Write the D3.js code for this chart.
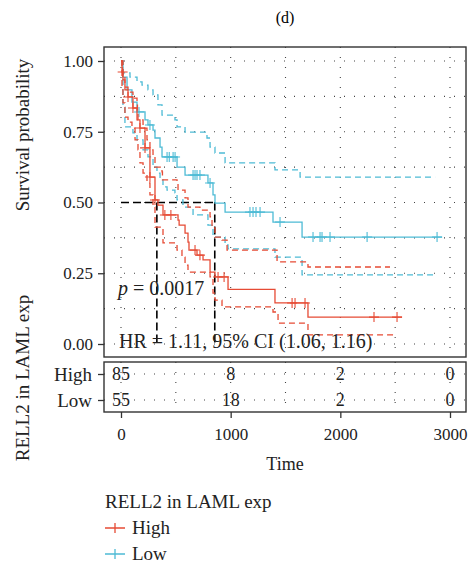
<!DOCTYPE html>
<html>
<head>
<meta charset="utf-8">
<script src="https://cdn.jsdelivr.net/npm/d3@7"></script>
<style>
  body { margin: 0; background: #fff; }
  svg { font-family: "Liberation Serif", "DejaVu Serif", serif; }
</style>
</head>
<body>
<div class="km-plot"></div>
<script>
// Kaplan-Meier steps: [time, survival]
const highCurve = [[0,1],[9,0.961],[18,0.933],[36,0.898],[64,0.873],[109,0.834],[146,0.792],[173,0.763],[219,0.693],[264,0.59],[310,0.509],[337,0.491],[383,0.456],[520,0.438],[530,0.42],[584,0.392],[611,0.36],[620,0.332],[693,0.314],[748,0.297],[812,0.254],[857,0.237],[976,0.193],[1404,0.145],[1705,0.095],[2563,0.095]];
const highUpper = [[0,1],[18,0.951],[36,0.908],[64,0.89],[109,0.869],[146,0.855],[150,0.82],[155,0.792],[201,0.763],[237,0.721],[264,0.686],[292,0.661],[310,0.625],[374,0.608],[378,0.58],[511,0.569],[520,0.544],[584,0.516],[611,0.484],[720,0.473],[812,0.449],[830,0.41],[857,0.378],[921,0.367],[967,0.332],[1423,0.29],[1705,0.272],[2453,0.272]];
const highLower = [[0,1],[9,0.898],[18,0.852],[36,0.802],[64,0.784],[100,0.763],[128,0.721],[155,0.686],[173,0.64],[201,0.604],[237,0.569],[264,0.527],[292,0.484],[310,0.413],[383,0.357],[511,0.332],[556,0.307],[584,0.279],[611,0.254],[812,0.237],[839,0.18],[857,0.155],[921,0.131],[1386,0.113],[1432,0.074],[1705,0.032],[2499,0.032]];
const highCensor = [15,64,109,173,219,264,310,400,455,675,720,885,940,1560,1587,1678,2307,2517];

const lowCurve = [[0,1],[18,0.943],[55,0.898],[100,0.855],[146,0.82],[219,0.792],[246,0.774],[292,0.756],[310,0.728],[356,0.696],[374,0.661],[511,0.625],[584,0.597],[793,0.569],[839,0.527],[857,0.498],[949,0.466],[1386,0.431],[1651,0.378],[2928,0.378]];
const lowUpper = [[0,1],[9,0.986],[18,0.958],[82,0.943],[146,0.926],[192,0.915],[246,0.898],[292,0.88],[337,0.845],[374,0.809],[492,0.792],[511,0.767],[584,0.749],[784,0.728],[812,0.696],[857,0.675],[949,0.64],[1404,0.615],[1633,0.59],[2864,0.59]];
const lowLower = [[0,1],[18,0.837],[36,0.767],[109,0.746],[146,0.721],[201,0.686],[246,0.661],[292,0.625],[328,0.604],[356,0.58],[383,0.555],[420,0.544],[492,0.534],[511,0.509],[565,0.484],[657,0.456],[793,0.42],[839,0.378],[949,0.35],[976,0.336],[1404,0.307],[1651,0.244],[2864,0.244]];
const lowCensor = [164,264,420,440,475,493,657,675,693,720,812,1176,1204,1231,1268,1450,1751,1815,1833,1906,2244,2882];

const medians = [327, 855];
const timeTicks = [0, 1000, 2000, 3000];
const survTicks = [0, 0.25, 0.5, 0.75, 1];
const groups = ["High", "Low"];
const riskHigh = [85, 8, 2, 0];
const riskLow = [55, 18, 2, 0];

const red = "#E64B35";
const blue = "#4DBBD5";
const width = 472;
const height = 565;

const svg = d3.select(".km-plot")
  .append("svg")
  .attr("width", width)
  .attr("height", height);

const x = d3.scaleLinear().domain([0, 3000]).range([121, 450]);
const y = d3.scaleLinear().domain([0, 1]).range([344, 61]);
const panel = {left: 104, right: 466, top: 47, bottom: 357};
const table = {top: 362, bottom: 412};
const rowY = d3.scalePoint().domain(groups).range([374, 400]);

svg.append("text")
  .attr("x", 285).attr("y", 23)
  .attr("text-anchor", "middle")
  .style("font-size", "16px")
  .text("(d)");

// grid
const gridX = d3.range(0, 3001, 500);
const gridY = d3.range(0, 1.001, 0.125);
const grid = svg.append("g")
  .attr("stroke", "#444")
  .attr("stroke-width", 1.1)
  .attr("stroke-dasharray", "1,9");
grid.selectAll(".gx").data(gridX).enter().append("line")
  .attr("x1", d => x(d)).attr("x2", d => x(d))
  .attr("y1", panel.top).attr("y2", panel.bottom);
grid.selectAll(".gy").data(gridY).enter().append("line")
  .attr("x1", panel.left).attr("x2", panel.right)
  .attr("y1", d => y(d)).attr("y2", d => y(d));
grid.selectAll(".tx").data(gridX).enter().append("line")
  .attr("x1", d => x(d)).attr("x2", d => x(d))
  .attr("y1", table.top).attr("y2", table.bottom);
grid.selectAll(".ty").data(groups).enter().append("line")
  .attr("x1", panel.left).attr("x2", panel.right)
  .attr("y1", d => rowY(d)).attr("y2", d => rowY(d));

// median lines
const med = svg.append("g")
  .attr("stroke", "#000")
  .attr("stroke-width", 1.6)
  .attr("stroke-dasharray", "8,4")
  .attr("fill", "none");
med.append("line")
  .attr("x1", x(0)).attr("x2", x(d3.max(medians)))
  .attr("y1", y(0.5)).attr("y2", y(0.5));
med.selectAll(".m").data(medians).enter().append("line")
  .attr("x1", d => x(d)).attr("x2", d => x(d))
  .attr("y1", y(0.5)).attr("y2", y(0));

const line = d3.line()
  .x(d => x(d[0]))
  .y(d => y(d[1]))
  .curve(d3.curveStepAfter);

const stepAt = (curve, t) => {
  let s = 1;
  curve.forEach(p => { if (p[0] <= t) s = p[1]; });
  return s;
};

const drawGroup = (curve, upper, lower, censor, color) => {
  const g = svg.append("g").attr("fill", "none").attr("stroke", color);
  [upper, lower].forEach(ci => {
    g.append("path")
      .attr("d", line(ci))
      .attr("stroke-width", 1.3)
      .attr("stroke-dasharray", "6,4");
  });
  g.append("path")
    .attr("d", line(curve))
    .attr("stroke-width", 1.3);
  g.selectAll(".c").data(censor).enter().append("path")
    .attr("stroke-width", 1.1)
    .attr("d", t => {
      const cx = x(t), cy = y(stepAt(curve, t));
      return `M${cx - 5},${cy}H${cx + 5}M${cx},${cy - 5}V${cy + 5}`;
    });
};

drawGroup(lowCurve, lowUpper, lowLower, lowCensor, blue);
drawGroup(highCurve, highUpper, highLower, highCensor, red);

// panels
svg.append("rect")
  .attr("x", panel.left).attr("y", panel.top)
  .attr("width", panel.right - panel.left).attr("height", panel.bottom - panel.top)
  .attr("fill", "none").attr("stroke", "#333").attr("stroke-width", 1.4);
svg.append("rect")
  .attr("x", panel.left).attr("y", table.top)
  .attr("width", panel.right - panel.left).attr("height", table.bottom - table.top)
  .attr("fill", "none").attr("stroke", "#333").attr("stroke-width", 1.4);

// axes
const yAxis = svg.append("g")
  .attr("transform", `translate(${panel.left},0)`)
  .call(d3.axisLeft(y).tickValues(survTicks).tickFormat(d3.format(".2f")).tickSize(6).tickPadding(5));
const rowAxis = svg.append("g")
  .attr("transform", `translate(${panel.left},0)`)
  .call(d3.axisLeft(rowY).tickSize(6).tickPadding(6));
const xAxis = svg.append("g")
  .attr("transform", `translate(0,${table.bottom})`)
  .call(d3.axisBottom(x).tickValues(timeTicks).tickFormat(d3.format("d")).tickSize(6).tickPadding(10));
[yAxis, rowAxis, xAxis].forEach(a => {
  a.select(".domain").remove();
  a.selectAll("line").attr("stroke", "#333").attr("stroke-width", 1.3);
  a.selectAll("text")
    .attr("fill", "#222")
    .style("font-family", "Liberation Serif, serif")
    .style("font-size", "17px");
});
rowAxis.selectAll("text").style("font-size", "19px");

// risk numbers
const riskRows = [riskHigh, riskLow];
groups.forEach((grp, i) => {
  svg.append("g").selectAll("text")
    .data(riskRows[i])
    .enter()
    .append("text")
    .attr("x", (d, j) => x(timeTicks[j]))
    .attr("y", rowY(grp))
    .attr("dy", "0.35em")
    .attr("text-anchor", "middle")
    .attr("fill", "#222")
    .style("font-size", "18px")
    .text(d => d);
});

// annotations
const pText = svg.append("text")
  .attr("x", 118).attr("y", 295)
  .attr("fill", "#222")
  .style("font-size", "20px");
pText.append("tspan").style("font-style", "italic").text("p");
pText.append("tspan").text(" = 0.0017");

svg.append("text")
  .attr("x", 119).attr("y", 348)
  .attr("fill", "#222")
  .style("font-size", "20px")
  .text("HR = 1.11, 95% CI (1.06, 1.16)");

// axis titles
svg.append("text")
  .attr("transform", "translate(29,135) rotate(-90)")
  .attr("text-anchor", "middle")
  .attr("fill", "#222")
  .style("font-size", "19px")
  .text("Survival probability");
svg.append("text")
  .attr("transform", "translate(29,378) rotate(-90)")
  .attr("text-anchor", "middle")
  .attr("fill", "#222")
  .style("font-size", "19px")
  .text("RELL2 in LAML exp");
svg.append("text")
  .attr("x", 285).attr("y", 470)
  .attr("text-anchor", "middle")
  .attr("fill", "#222")
  .style("font-size", "18px")
  .text("Time");

// legend
const legend = svg.append("g").attr("transform", "translate(105,0)");
legend.append("text")
  .attr("x", 0).attr("y", 508)
  .attr("fill", "#222")
  .style("font-size", "19px")
  .text("RELL2 in LAML exp");
const legendItems = [{name: "High", color: red}, {name: "Low", color: blue}];
const legendY = d3.scalePoint().domain(groups).range([528, 554]);
legendItems.forEach(item => {
  const ly = legendY(item.name);
  legend.append("path")
    .attr("d", `M0,${ly}H20M10,${ly - 5}V${ly + 5}`)
    .attr("stroke", item.color)
    .attr("stroke-width", 1.3)
    .attr("fill", "none");
  legend.append("text")
    .attr("x", 27).attr("y", ly)
    .attr("dy", "0.33em")
    .attr("fill", "#222")
    .style("font-size", "19px")
    .text(item.name);
});
</script>
</body>
</html>
